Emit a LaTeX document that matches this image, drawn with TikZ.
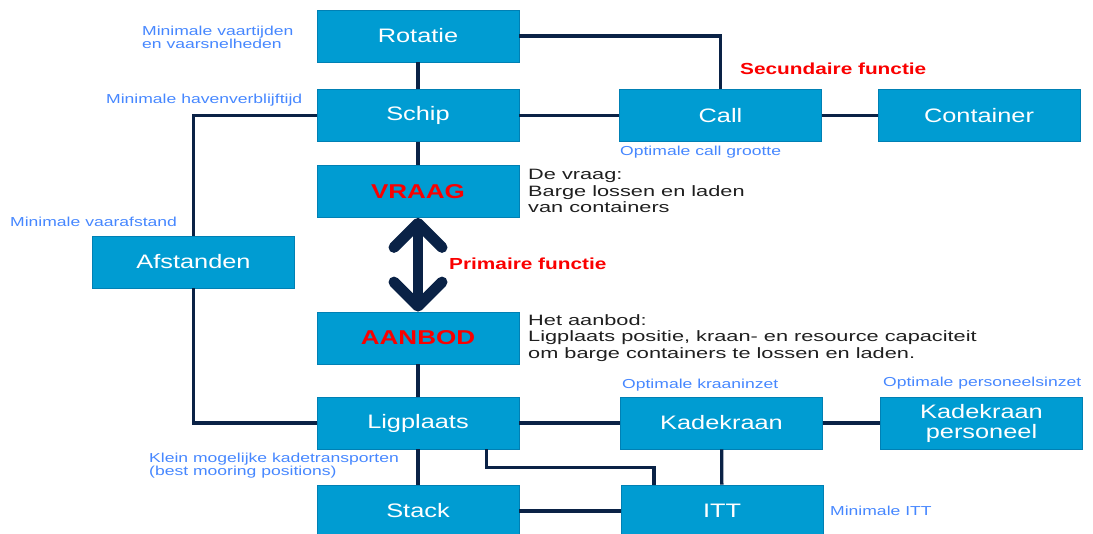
\documentclass[tikz,border=0pt]{standalone}
\usepackage{fontspec}
\setmainfont[FakeStretch=1.3]{Liberation Sans}
\newfontfamily\blufont[FakeStretch=1.35]{Liberation Sans}
\newfontfamily\descfont[FakeStretch=1.45]{Liberation Sans}
\usepackage{tikz}
\usetikzlibrary{arrows.meta,positioning,calc}
\usepackage{xcolor}

\definecolor{boxblue}{RGB}{0,156,210}
\definecolor{boxedge}{RGB}{0,128,180}
\definecolor{navy}{RGB}{10,34,70}
\definecolor{lblblue}{RGB}{70,135,255}
\definecolor{redtxt}{RGB}{250,0,0}

\begin{document}
\begin{tikzpicture}[x=1pt, y=-1pt,
    box/.style={draw=boxedge, line width=0.8pt, fill=boxblue, text=white,
        minimum width=202pt, minimum height=52pt, inner sep=0pt, align=center,
        font=\fontsize{19.5}{20}\selectfont},
    wire/.style={draw=navy, line width=3.3pt},
    note/.style={text=lblblue, inner sep=0pt, anchor=west, align=left,
        font=\blufont\fontsize{13}{13}\selectfont},
    desc/.style={text=black!88, inner sep=0pt, anchor=west, align=left,
        font=\descfont\fontsize{15}{16.5}\selectfont},
    func/.style={text=redtxt, inner sep=0pt, anchor=west,
        font=\bfseries\fontsize{16}{16}\selectfont}]
    \useasboundingbox (0,0) rectangle (1093,534);

    % boxes
    \node[box] (rotatie) at (418,36) {Rotatie};
    \node[box] (schip) at (418,115.5) {Schip};
    \node[box, font=\bfseries\fontsize{20}{20}\selectfont, text=redtxt] (vraag) at (418,191.5) {VRAAG};
    \node[box] (afstanden) at (193.5,262) {Afstanden};
    \node[box, font=\bfseries\fontsize{20}{20}\selectfont, text=redtxt] (aanbod) at (418,338) {AANBOD};
    \node[box] (ligplaats) at (418,423) {Ligplaats};
    \node[box] (stack) at (418,511) {Stack};
    \node[box] (call) at (720.5,115.5) {Call};
    \node[box] (container) at (979,115.5) {Container};
    \node[box] (kadekraan) at (721.5,423) {Kadekraan};
    \node[box] (personeel) at (981.5,423) {Kadekraan\\personeel};
    \node[box] (itt) at (722,511) {ITT};

    % connectors
    \draw[wire] (rotatie) -- (schip);
    \draw[wire] (schip) -- (vraag);
    \draw[wire] (rotatie.east) -| (call.north);
    \draw[wire] (schip) -- (call);
    \draw[wire] (call) -- (container);
    \draw[wire] (schip.west) -| (afstanden.north);
    \draw[wire] (afstanden.south) |- (ligplaats.west);
    \draw[wire] (aanbod) -- (ligplaats);
    \draw[wire] (ligplaats) -- (stack);
    \draw[wire] (ligplaats) -- (kadekraan);
    \draw[wire] (kadekraan) -- (personeel);
    \draw[wire] (kadekraan) -- (itt);
    \draw[wire] (stack) -- (itt);
    \draw[wire] ([xshift=-33pt]ligplaats.south east) -- ++(0,18) -| ([xshift=-68pt]itt.north);

    % primaire functie
    \draw[navy, line width=10pt,
        {Straight Barb[round, length=24pt, width=48pt, line width=11pt]}-{Straight Barb[round, length=24pt, width=48pt, line width=11pt]}]
        (vraag.south) -- (aanbod.north);

    % labels
    \node[note] (nrotatie) at (142,37) {Minimale vaartijden\\en vaarsnelheden};
    \node[note] (nschip) at (106,100) {Minimale havenverblijftijd};
    \node[note] (nafstanden) at (10,222) {Minimale vaarafstand};
    \node[note] (ncall) at (620,152) {Optimale call grootte};
    \node[note] (nkraan) at (622,385) {Optimale kraaninzet};
    \node[note] (npersoneel) at (883,383) {Optimale personeelsinzet};
    \node[note] (nligplaats) at (149,466) {Klein mogelijke kadetransporten\\(best mooring positions)};
    \node[note] (nitt) at (830,511) {Minimale ITT};

    \node[func] (secundair) at (740,69) {Secundaire functie};
    \node[func] (primair) at (449,264) {Primaire functie};

    \node[desc] (dvraag) at (528,191) {De vraag:\\Barge lossen en laden\\van containers};
    \node[desc] (daanbod) at (528,338) {Het aanbod:\\Ligplaats positie, kraan- en resource capaciteit\\om barge containers te lossen en laden.};
\end{tikzpicture}
\end{document}
